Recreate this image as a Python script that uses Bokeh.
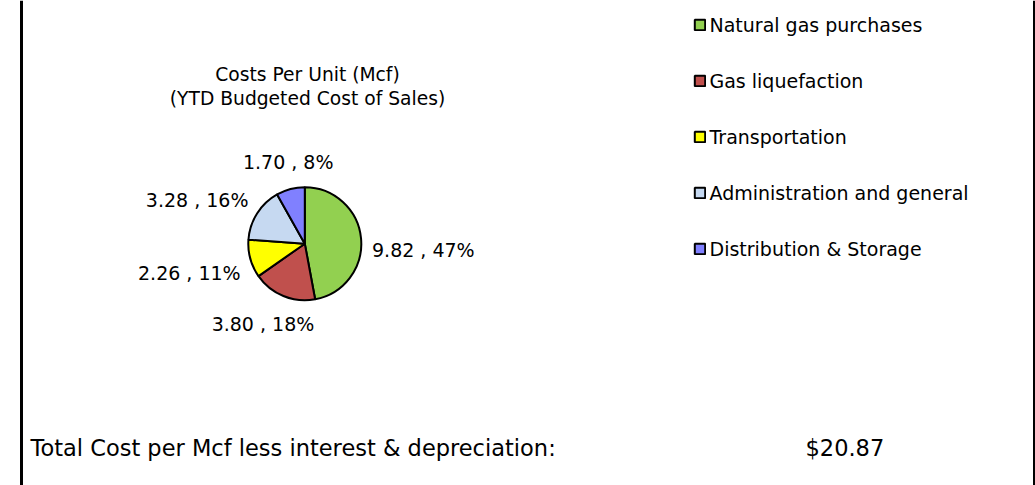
import math
from bokeh.plotting import figure
from bokeh.models import ColumnDataSource, Range1d, Label, Span, Legend, LegendItem
from bokeh.core.properties import value, field
from bokeh.embed import file_html
from bokeh.resources import INLINE

# ---- data ----
categories = ["Natural gas purchases", "Gas liquefaction", "Transportation",
              "Administration and general", "Distribution & Storage"]
costs = [9.82, 3.80, 2.26, 3.28, 1.70]
colors = ["#92D050", "#C0504D", "#FFFF00", "#C6D9F1", "#8080FF"]
title_lines = ["Costs Per Unit (Mcf)", "(YTD Budgeted Cost of Sales)"]
total_text = "Total Cost per Mcf less interest & depreciation:"
total_cost = 20.87

# ---- layout helpers (page pixel -> figure data units, 1:1) ----
W, H = 1035, 485
def X(px):
    return px
def Y(py):
    return H - py

FONT = "DejaVu Sans"

p = figure(width=W, height=H, x_range=Range1d(0, W), y_range=Range1d(0, H),
           output_backend="svg", toolbar_location=None, min_border=0,
           x_axis_location=None, y_axis_location=None)
p.grid.visible = False
p.outline_line_color = None
p.background_fill_color = "white"
p.border_fill_color = "white"

# ---- pie ----
total = sum(costs)
fracs = [c / total for c in costs]
starts, ends, mids = [], [], []
cum = 0.0
for f in fracs:
    a0 = math.pi / 2 - 2 * math.pi * cum
    cum += f
    a1 = math.pi / 2 - 2 * math.pi * cum
    starts.append(a0); ends.append(a1); mids.append((a0 + a1) / 2)

cx, cy, r = X(304.3), Y(243.2), 56.5
src = ColumnDataSource(dict(category=categories, cost=costs, color=colors,
                            start=starts, end=ends))
wedges = p.wedge(x=cx, y=cy, radius=r, start_angle="start", end_angle="end",
                 direction="clock", fill_color="color", line_color="black",
                 line_width=2, source=src)

# ---- data labels ----
R = r + 9
nudges = [(2, 12), (-17, 20), (-1, 12), (-1, -9), (0, -18)]  # page px, +dy = down
lx, ly, ltxt, lalign = [], [], [], []
for c, f, m, (dx, dy) in zip(costs, fracs, mids, nudges):
    ca = math.cos(m)
    lx.append(cx + R * ca + dx)
    ly.append(cy + R * math.sin(m) - dy)
    ltxt.append(f"{c:.2f} , {round(100 * f)}%")
    lalign.append("left" if ca > 0.5 else ("right" if ca < -0.5 else "center"))
lsrc = ColumnDataSource(dict(x=lx, y=ly, text=ltxt, align=lalign))
p.text(x="x", y="y", text="text", text_align=field("align"), text_baseline="middle",
       text_font=value(FONT), text_font_size="19px", text_color="black", source=lsrc)

# ---- chart title ----
for line, base in zip(title_lines, [74, 98]):
    p.add_layout(Label(x=X(307), y=Y(base), text=line, text_align="center",
                       text_baseline="alphabetic", text_font=FONT,
                       text_font_size="18.7px", text_color="black"))

# ---- legend ----
items = [LegendItem(label=cat, renderers=[wedges], index=i) for i, cat in enumerate(categories)]
legend = Legend(items=items, location=(X(692.5), Y(259.5)), orientation="vertical",
                glyph_width=13, glyph_height=13, label_standoff=4, spacing=34,
                padding=0, margin=0, border_line_color=None, background_fill_alpha=0,
                label_text_font=FONT, label_text_font_size="19px",
                label_height=20, label_text_color="black")
p.add_layout(legend, "center")

# ---- total line ----
p.add_layout(Label(x=X(30), y=Y(447), text=total_text, text_baseline="alphabetic",
                   text_font=FONT, text_font_size="22.5px", text_color="black"))
p.add_layout(Label(x=X(805), y=Y(447), text=f"${total_cost:.2f}", text_baseline="alphabetic",
                   text_font=FONT, text_font_size="22.5px", text_color="black"))

# ---- frame borders ----
p.add_layout(Span(location=X(21), dimension="height", line_color="black", line_width=3))
p.add_layout(Span(location=X(1034), dimension="height", line_color="black", line_width=3))

open("out.html", "w").write(file_html(p, INLINE))
